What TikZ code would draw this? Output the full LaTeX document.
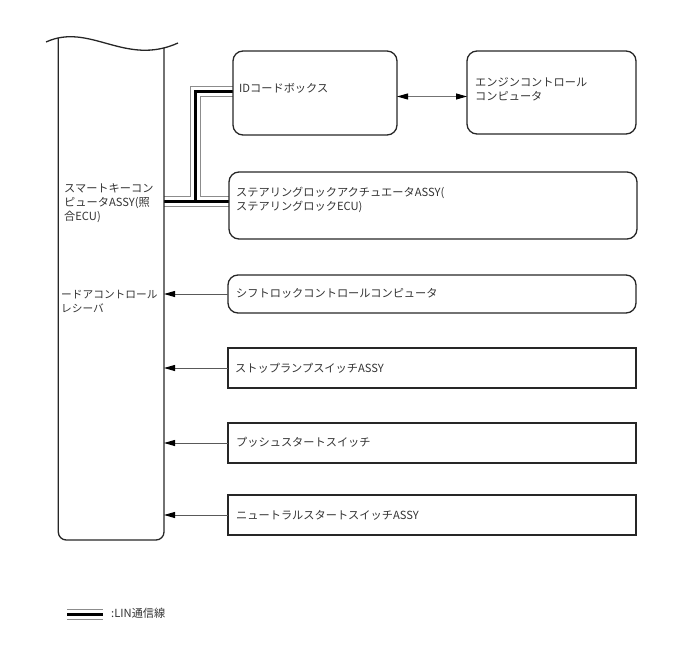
\documentclass[tikz,border=0pt]{standalone}
\usepackage{fontspec}
\setmainfont{Noto Sans CJK JP}
\usetikzlibrary{arrows.meta,backgrounds,calc}
\begin{document}
\begin{tikzpicture}[x=1pt,y=-1pt,
  box/.style={draw=black!85, line width=1.3pt, rounded corners=10pt, inner sep=0pt, outer sep=0pt},
  sbox/.style={draw=black!85, line width=1.3pt, inner sep=0pt, outer sep=0pt},
  lbl/.style={anchor=west, inner sep=0pt, align=left, text=black!80, font=\fontsize{11.2}{14}\selectfont},
  arr/.style={draw=black!65, line width=1pt, -{Triangle[length=11pt,width=6pt,color=black]}},
  darr/.style={draw=black!55, line width=1pt, {Triangle[length=11pt,width=6pt,color=black]}-{Triangle[length=11pt,width=6pt,color=black]}},
  linout/.style={draw=black!45, line width=11pt},
  linmid/.style={draw=white, line width=9pt},
  lincore/.style={draw=black, line width=3pt}]
\useasboundingbox (0,0) rectangle (688,658);

% smart key computer (tall box)
\node[inner sep=0pt, outer sep=0pt, minimum width=105.7pt, minimum height=495pt] (scu) at (111.15,292.5) {};
\draw[line width=1.3pt, black!85, rounded corners=8pt] (58.3,38) -- (58.3,540) -- (164,540) -- (164,48);
\draw[line width=1.3pt, black!85] (46,42) .. controls (90,22) and (125,67) .. (178,43);
\node[lbl] at (64,203.5) {スマートキーコン\\ピュータASSY(照\\合ECU)};
\node[lbl, font=\fontsize{10.7}{14}\selectfont] at (61,302) {ードアコントロール\\レシーバ};

% boxes
\node[box, minimum width=164pt, minimum height=84pt] (id) at (315,93) {};
\node[box, minimum width=169pt, minimum height=83pt] (en) at (551.5,92.5) {};
\node[box, minimum width=408pt, minimum height=67pt] (st) at (433,205.5) {};
\node[box, minimum width=408pt, minimum height=38pt] (sh) at (432,294) {};
\node[sbox, minimum width=408pt, minimum height=40pt] (sp) at (432,368) {};
\node[sbox, minimum width=408pt, minimum height=40pt] (ps) at (432,443) {};
\node[sbox, minimum width=408pt, minimum height=40pt] (ns) at (432,515) {};

\node[lbl] at (239,88) {IDコードボックス};
\node[lbl] at (475,89) {エンジンコントロール\\コンピュータ};
\node[lbl] at (236,199.5) {ステアリングロックアクチュエータASSY(\\ステアリングロックECU)};
\node[lbl] at (236,293) {シフトロックコントロールコンピュータ};
\node[lbl] at (235,368) {ストップランプスイッチASSY};
\node[lbl] at (236,442) {プッシュスタートスイッチ};
\node[lbl] at (236,515) {ニュートラルスタートスイッチASSY};

% LIN lines
\coordinate (j1) at (195.5,201.5);
\coordinate (idl) at ($(id.west)+(0,-1.5)$);
\begin{scope}[on background layer]
\draw[linout] (j1 -| scu.east) -- (j1 -| st.west) (j1) |- (idl);
\draw[linmid] (j1 -| scu.east) -- (j1 -| st.west) (j1) |- (idl);
\draw[lincore] (j1 -| scu.east) -- (j1 -| st.west) (j1) |- (idl);
\end{scope}

% arrows
\draw[darr] ($(id.east)+(0,3.5)$) -- ($(id.east -| en.west)+(0,3.5)$);
\draw[arr] (sh.west) -- (sh.west -| scu.east);
\draw[arr] (sp.west) -- (sp.west -| scu.east);
\draw[arr] (ps.west) -- (ps.west -| scu.east);
\draw[arr] (ns.west) -- (ns.west -| scu.east);

% legend
\coordinate (lg1) at (67,614);
\coordinate (lg2) at (103,614);
\draw[linout] (lg1) -- (lg2);
\draw[linmid] (lg1) -- (lg2);
\draw[lincore] (lg1) -- (lg2);
\node[lbl] at (111,613) {:LIN通信線};
\end{tikzpicture}
\end{document}
